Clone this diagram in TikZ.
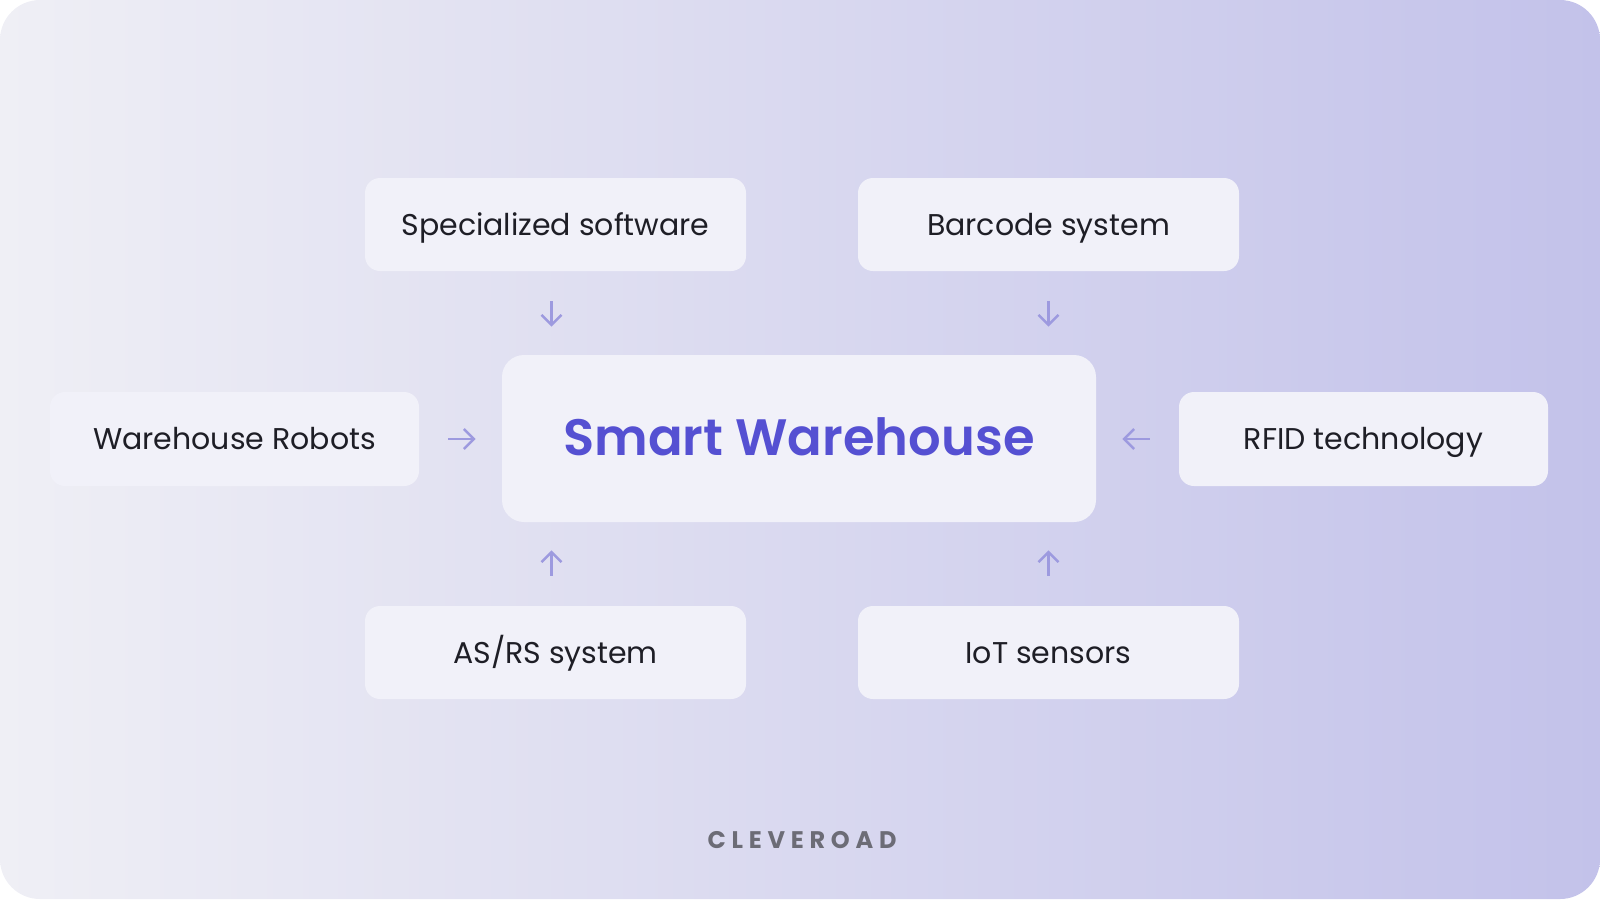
\documentclass[tikz,border=0pt]{standalone}
\usepackage{fontspec}
\setmainfont{Poppins}
\newfontfamily\titlefont{Poppins SemiBold}
\usepackage{xcolor}
\usepackage{tikz}
\usetikzlibrary{shapes,arrows.meta,positioning,calc}

\definecolor{bgleft}{HTML}{EFEFF5}
\definecolor{bgmid}{HTML}{E0E0F1}
\definecolor{bgright}{HTML}{C3C2EA}
\definecolor{boxfill}{HTML}{F1F1F9}
\definecolor{titleblue}{HTML}{5550D2}
\definecolor{arrowpurple}{HTML}{9D9ADF}
\definecolor{textdark}{HTML}{1E1E26}
\definecolor{logogray}{HTML}{6C6C76}

\tikzset{
  item/.style={fill=boxfill, rounded corners=7.5pt, inner sep=0pt,
    minimum width=190.5pt, minimum height=46.5pt, text=textdark,
    text height=10.6pt, text depth=0pt,
    font=\fontsize{15}{18}\selectfont},
  sideitem/.style={item, minimum width=184.5pt, minimum height=47pt},
  hub/.style={fill=boxfill, rounded corners=11pt, inner sep=0pt,
    minimum width=297pt, minimum height=83.5pt, text=titleblue,
    text height=17pt, text depth=0pt,
    font=\titlefont\fontsize{25.6}{30}\selectfont},
  feed/.style={draw=arrowpurple, line width=1.2pt, -{Straight Barb[length=5pt,width=10pt]}}
}

\begin{document}
\begin{tikzpicture}[x=0.5pt,y=-0.5pt]
\useasboundingbox (0,0) rectangle (1600,901);
% background card
\begin{scope}
\clip[rounded corners=20pt] (0,0) rectangle (1600,899);
\shade[left color=bgleft, middle color=bgmid, right color=bgright] (0,0) rectangle (1600,901);
\end{scope}

% boxes
\node[hub] (sh) at (799,438.5) {Smart Warehouse};
\node[item] (sw) at (555.5,224.5) {Specialized software};
\node[item] (bc) at (1048.5,224.5) {Barcode system};
\node[sideitem] (rob) at (234.5,439) {Warehouse Robots};
\node[sideitem] (rfid) at (1363.5,439) {RFID technology};
\node[item] (asrs) at (555.5,652.5) {AS/RS system};
\node[item] (iot) at (1048.5,652.5) {IoT sensors};

% arrows into the hub
\draw[feed, shorten <=15pt, shorten >=14pt] ([xshift=-2pt]sw.south) -- ([xshift=-2pt]sw.south |- sh.north);
\draw[feed, shorten <=15pt, shorten >=14pt] (bc.south) -- (bc.south |- sh.north);
\draw[feed, shorten <=15pt, shorten >=14pt] ([xshift=-2pt]asrs.north) -- ([xshift=-2pt]asrs.north |- sh.south);
\draw[feed, shorten <=15pt, shorten >=14pt] (iot.north) -- (iot.north |- sh.south);
\draw[feed, shorten <=14.5pt, shorten >=13pt] (rob.east) -- (rob.east -| sh.west);
\draw[feed, shorten <=14.5pt, shorten >=13pt] (rfid.west) -- (rfid.west -| sh.east);

% logo
\node[text=logogray, font=\bfseries\fontsize{12}{14}\selectfont\addfontfeature{LetterSpace=24}] (logo) at (802,840) {CLEVEROAD};
\end{tikzpicture}
\end{document}
